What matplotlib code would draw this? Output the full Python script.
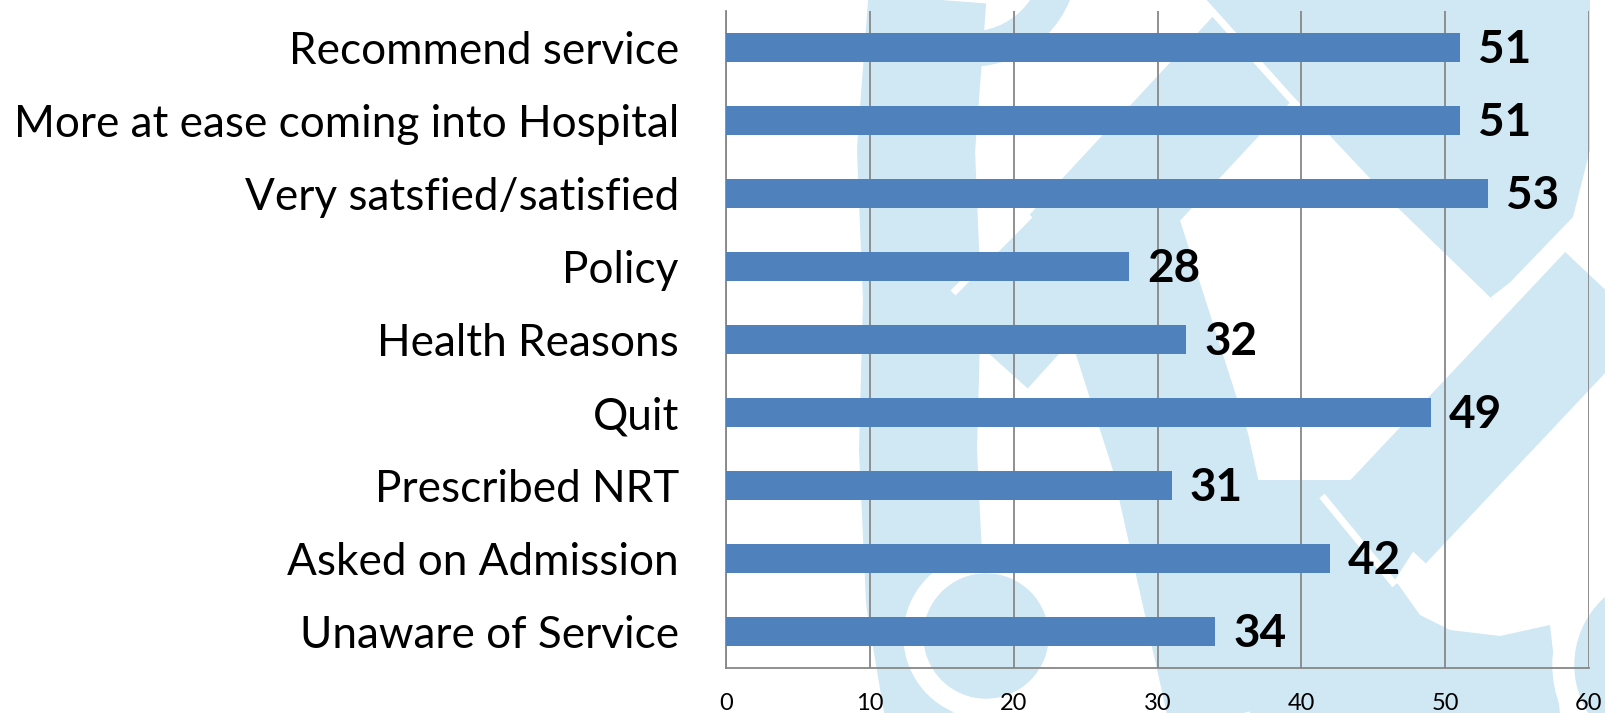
import matplotlib
matplotlib.use("Agg")
import matplotlib.pyplot as plt
from matplotlib.lines import Line2D
from matplotlib.patches import Circle, Wedge, Polygon
from matplotlib.transforms import Affine2D

# data
categories = ["Recommend service", "More at ease coming into Hospital",
              "Very satsfied/satisfied", "Policy", "Health Reasons", "Quit",
              "Prescribed NRT", "Asked on Admission", "Unaware of Service"]
values = [51, 51, 53, 28, 32, 49, 31, 42, 34]
x_ticks = [0, 10, 20, 30, 40, 50, 60]

W, H = 1605, 713
BAR = "#4f81bd"
WM = "#d0e7f4"      # watermark light blue
GRID = "#878787"

plt.rcParams["font.family"] = ["Lato", "DejaVu Sans"]

fig = plt.figure(figsize=(W / 100, H / 100), dpi=100)
fig.patch.set_facecolor("white")

# pixel coordinates (y down) for the background logo
pix = Affine2D().scale(1 / W, -1 / H).translate(0, 1) + fig.transFigure


def band(pts, width, color=WM, z=-10):
    xs, ys = zip(*pts)
    fig.add_artist(Line2D(xs, ys, transform=pix, lw=width * 0.72, color=color,
                          solid_capstyle="butt", solid_joinstyle="round", zorder=z))


def blob(pts, color=WM, z=-10):
    fig.add_artist(Polygon(pts, closed=True, transform=pix, color=color, lw=0, zorder=z))


# rough watermark (interlaced logo)
fig.add_artist(Wedge((971, -40), 106, 0, 360, width=34, transform=pix, color=WM, zorder=-10))
band([(928, -10), (916, 150), (922, 300), (918, 450), (925, 600), (945, 720)], 118)
band([(1316, -10), (1105, 217), (985, 350)], 115)
blob([(1202, 0), (1397, 207), (1493, 300), (1573, 217), (1590, 150), (1590, 0)])
band([(1100, 200), (1180, 450), (1240, 720)], 140)
band([(1710, 180), (1385, 525)], 112)
blob([(1250, 480), (1490, 480), (1430, 525), (1395, 580), (1420, 615), (1450, 630),
      (1500, 636), (1550, 625), (1560, 713), (1250, 713)])
band([(1202, 0), (1298, 107)], 7, "white", -9)
band([(1493, 300), (1605, 213)], 7, "white", -9)
band([(953, 293), (1030, 215)], 7, "white", -9)
band([(1073, 353), (1039, 396)], 7, "white", -9)
band([(1322, 496), (1395, 585)], 7, "white", -9)
fig.add_artist(Wedge((1665, 665), 112, 0, 360, width=22, transform=pix, color="white", zorder=-9))
fig.add_artist(Circle((1665, 665), 90, transform=pix, color=WM, zorder=-8))
fig.add_artist(Wedge((986, 636), 82, 0, 360, width=20, transform=pix, color="white", zorder=-9))
fig.add_artist(Circle((986, 636), 62, transform=pix, color=WM, zorder=-8))

ax = fig.add_axes([726 / W, 45 / H, (1589 - 726) / W, (668 - 11) / H])
ax.set_facecolor("none")

y = list(range(len(categories)))
ax.barh(y, values, height=0.4, color=BAR, zorder=3)

for yi, v in zip(y, values):
    ax.annotate(str(v), (v, yi), xytext=(13, -2), textcoords="offset points",
                ha="left", va="center", fontsize=33, fontweight="bold", color="black")

ax.set_xlim(0, 60)
ax.set_ylim(len(categories) - 0.5, -0.5)
ax.set_xticks(x_ticks)
ax.set_yticks(y)
ax.set_yticklabels(categories)
ax.tick_params(axis="y", length=0, pad=34, labelsize=31.8)
ax.tick_params(axis="x", length=0, pad=18, labelsize=17)
ax.xaxis.grid(True, color=GRID, lw=1.3)
ax.set_axisbelow(True)
for s in ["top", "right"]:
    ax.spines[s].set_visible(False)
for s in ["left", "bottom"]:
    ax.spines[s].set_color(GRID)
    ax.spines[s].set_linewidth(1.3)

fig.savefig("out.png", dpi=100, facecolor="white")
